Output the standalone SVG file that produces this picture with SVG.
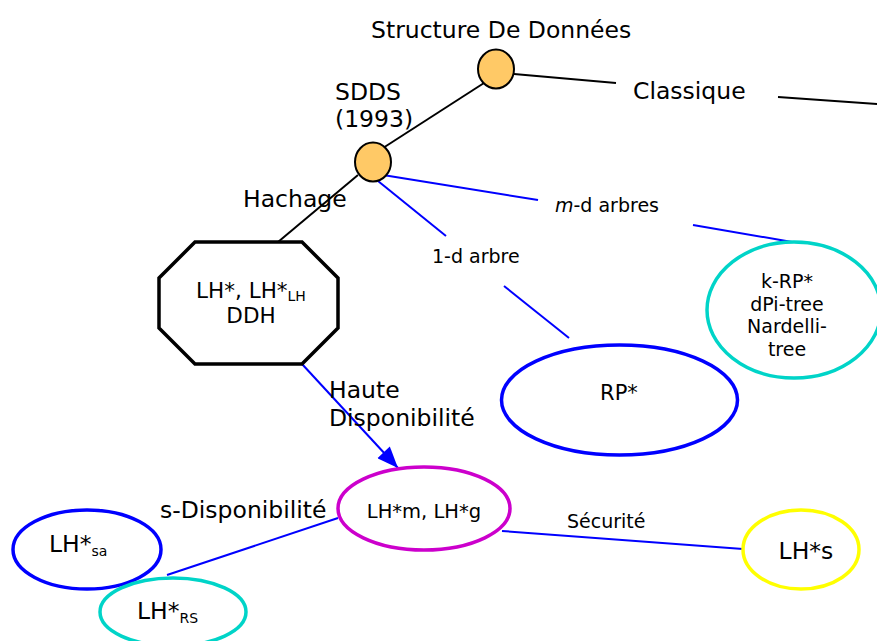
<svg xmlns="http://www.w3.org/2000/svg" width="877" height="641" viewBox="0 0 877 641">
  <style>
    text { font-family: "DejaVu Sans", Verdana, sans-serif; fill: #000; }
    .big { font-size: 23.5px; }
    .small { font-size: 19px; }
    .mid { text-anchor: middle; }
    .black { stroke: #000; stroke-width: 2; fill: none; }
    .blue { stroke: #0000FF; stroke-width: 2; fill: none; }
    .dot { fill: #FFC966; stroke: #000; stroke-width: 2; }
    .node { fill: #fff; stroke-width: 3.5; }
  </style>
  <defs>
    <marker id="head" viewBox="0 0 20 16" refX="20" refY="8" markerWidth="22" markerHeight="17" markerUnits="userSpaceOnUse" orient="auto">
      <path d="M0,0 L20,8 L0,16 z" fill="#0000FF"/>
    </marker>
  </defs>

  <!-- connectors -->
  <g id="connectors">
    <line class="black" x1="484" y1="83" x2="383" y2="148"/>
    <line class="black" x1="514" y1="74" x2="616" y2="83"/>
    <line class="black" x1="778" y1="97" x2="877" y2="104"/>
    <line class="black" x1="358" y1="175" x2="278" y2="242"/>
    <line class="blue" x1="383" y1="175" x2="538" y2="200"/>
    <line class="blue" x1="693" y1="225" x2="792" y2="242"/>
    <line class="blue" x1="378" y1="181" x2="446" y2="236"/>
    <line class="blue" x1="504" y1="286" x2="569" y2="338"/>
    <line class="blue" x1="302" y1="364" x2="398" y2="468" marker-end="url(#head)"/>
    <line class="blue" x1="338" y1="518" x2="167" y2="575"/>
    <line class="blue" x1="502" y1="531" x2="743" y2="549"/>
  </g>

  <!-- edge labels -->
  <g id="labels">
    <text class="big" x="633" y="99">Classique</text>
    <text class="big" x="243" y="207">Hachage</text>
    <text class="small" x="555" y="212"><tspan font-style="italic">m</tspan>-d arbres</text>
    <text class="small" x="432" y="263">1-d arbre</text>
    <text class="big" x="329" y="398">Haute</text>
    <text class="big" x="329" y="426">Disponibilité</text>
    <text class="big" x="160" y="518">s-Disponibilité</text>
    <text class="small" x="567" y="528">Sécurité</text>
  </g>

  <g id="root">
    <ellipse class="dot" cx="496" cy="69" rx="18" ry="19.5"/>
    <text class="big" x="371" y="38">Structure De Données</text>
  </g>

  <g id="sdds">
    <ellipse class="dot" cx="373" cy="162" rx="18" ry="19.5"/>
    <text class="big" x="335" y="100">SDDS</text>
    <text class="big" x="335" y="127">(1993)</text>
  </g>

  <g id="lh">
    <polygon class="node" stroke="#000" points="195,242 302,242 338,278 338,328 302,364 195,364 159,328 159,278"/>
    <text class="mid" x="251" y="298" font-size="21.5">LH*, LH*<tspan font-size="14" dy="3">LH</tspan></text>
    <text class="mid" x="251" y="323" font-size="21.5">DDH</text>
  </g>

  <g id="rp">
    <ellipse class="node" stroke="#0000FF" cx="619.5" cy="400" rx="118" ry="55"/>
    <text class="mid" x="619" y="400" font-size="21">RP*</text>
  </g>

  <g id="krp">
    <ellipse class="node" stroke="#00D4C8" cx="794" cy="310" rx="87" ry="68"/>
    <text class="small mid" x="787" y="288">k-RP*</text>
    <text class="small mid" x="787" y="311">dPi-tree</text>
    <text class="small mid" x="787" y="333">Nardelli-</text>
    <text class="small mid" x="787" y="356">tree</text>
  </g>

  <g id="lhm">
    <ellipse class="node" stroke="#CC00CC" cx="424" cy="508.5" rx="86" ry="41.5"/>
    <text class="mid" x="424" y="518" font-size="19.5">LH*m, LH*g</text>
  </g>

  <g id="lhs">
    <ellipse class="node" stroke="#FFFF00" cx="801" cy="549.5" rx="58" ry="39.5"/>
    <text class="big mid" x="806" y="559">LH*s</text>
  </g>

  <g id="lhsa">
    <ellipse class="node" stroke="#0000FF" cx="87" cy="549.5" rx="74" ry="39.5"/>
    <text class="big" x="49" y="552">LH*<tspan font-size="14" dy="4">sa</tspan></text>
  </g>

  <g id="lhrs">
    <ellipse class="node" stroke="#00D4C8" cx="173" cy="612" rx="73" ry="34"/>
    <text class="big" x="137" y="619">LH*<tspan font-size="14" dy="4">RS</tspan></text>
  </g>
</svg>
